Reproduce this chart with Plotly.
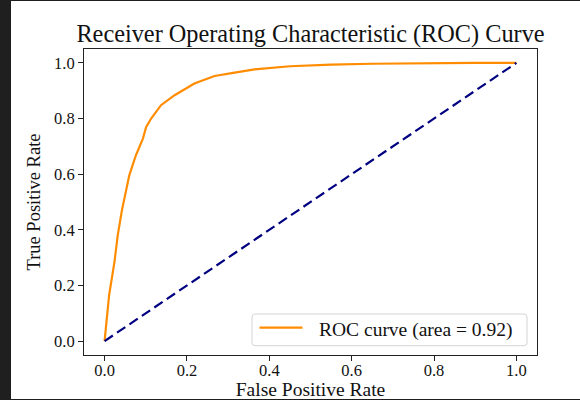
import plotly.graph_objects as go

fpr = [0.0, 0.003, 0.011, 0.024, 0.032, 0.042, 0.052, 0.060, 0.076, 0.093, 0.101, 0.113,
       0.137, 0.170, 0.218, 0.267, 0.316, 0.364, 0.45, 0.55, 0.65, 0.77, 0.9, 1.0]
tpr = [0.0, 0.046, 0.165, 0.285, 0.381, 0.470, 0.540, 0.596, 0.668, 0.728, 0.770, 0.800,
       0.848, 0.884, 0.926, 0.953, 0.965, 0.977, 0.988, 0.994, 0.997, 0.999, 1.0, 1.0]
diag_x = [0.0, 1.0]
diag_y = [0.0, 1.0]
tick_vals = [0.0, 0.2, 0.4, 0.6, 0.8, 1.0]
tick_text = ["0.0", "0.2", "0.4", "0.6", "0.8", "1.0"]
roc_auc = 0.92
legend_label = f"ROC curve (area = {roc_auc:.2f})"

FONT = "Liberation Serif"
ORANGE = "#FF8C00"
NAVY = "#000080"

# plot area in pixels: left 84, right 537, top 49, bottom 355
PL, PR, PT, PB = 84, 537, 49, 355
PW, PH = PR - PL, PB - PT

fig = go.Figure()
fig.add_trace(go.Scatter(x=fpr, y=tpr, mode="lines",
                         line=dict(color=ORANGE, width=2.2),
                         name=legend_label, showlegend=False))
fig.add_trace(go.Scatter(x=diag_x, y=diag_y, mode="lines",
                         line=dict(color=NAVY, width=2.2, dash="10px,5px"),
                         showlegend=False))

# screenshot frame (dark strip on the left, thin lines top/bottom)
fig.add_shape(type="rect", xref="paper", yref="paper",
              xsizemode="pixel", ysizemode="pixel", xanchor=0, yanchor=0,
              x0=-73, x1=506, y0=-44, y1=354,
              fillcolor="white", line=dict(width=0), layer="below")

# legend box (matplotlib style, lower right)
bx0, bx1, by0, by1, r = 168, 443, 9.3, 41, 3
fig.add_shape(type="path", xref="paper", yref="paper",
              xsizemode="pixel", ysizemode="pixel", xanchor=0, yanchor=0,
              path=(f"M{bx0+r},{by0} L{bx1-r},{by0} Q{bx1},{by0} {bx1},{by0+r} "
                    f"L{bx1},{by1-r} Q{bx1},{by1} {bx1-r},{by1} L{bx0+r},{by1} "
                    f"Q{bx0},{by1} {bx0},{by1-r} L{bx0},{by0+r} Q{bx0},{by0} {bx0+r},{by0} Z"),
              fillcolor="rgba(255,255,255,0.85)", line=dict(color="#d4d4d4", width=1))
fig.add_shape(type="line", xref="paper", yref="paper",
              xsizemode="pixel", ysizemode="pixel", xanchor=0, yanchor=0,
              x0=175.5, x1=218.5, y0=27.3, y1=27.3,
              line=dict(color=ORANGE, width=2.2))
fig.add_annotation(text=legend_label, xref="paper", yref="paper",
                   x=(316.5 - PL) / PW, y=(PB - 329.5) / PH,
                   xanchor="left", yanchor="middle", showarrow=False,
                   font=dict(family=FONT, size=19.5, color="#111"))

axis_common = dict(range=[-0.05, 1.05], tickvals=tick_vals, ticktext=tick_text,
                   showgrid=False, zeroline=False, showline=True, mirror=True,
                   linecolor="#222", linewidth=1, ticks="outside", ticklen=5,
                   tickcolor="#222", automargin=True,
                   tickfont=dict(family=FONT, size=16.5, color="#111"))

fig.update_xaxes(**axis_common, ticklabelstandoff=-5,
                 title=dict(text="False Positive Rate", standoff=6,
                            font=dict(family=FONT, size=19.5, color="#111")))
fig.update_yaxes(**axis_common,
                 title=dict(text="True Positive Rate", standoff=8,
                            font=dict(family=FONT, size=18.5, color="#111")))

fig.update_layout(
    width=580, height=400,
    margin=dict(l=PL, r=580 - PR, t=PT, b=400 - PB, autoexpand=False),
    paper_bgcolor="#1f1f1f", plot_bgcolor="white",
    showlegend=False,
    title=dict(text="Receiver Operating Characteristic (ROC) Curve",
               font=dict(family=FONT, size=24.3, color="#111"),
               x=0.5, xref="paper", xanchor="center",
               y=1.0, yref="paper", yanchor="bottom", pad=dict(b=7)),
)

fig.write_html("out.html", config={"displayModeBar": False},
               post_script="document.body.style.margin='0';document.body.style.overflow='hidden';")
